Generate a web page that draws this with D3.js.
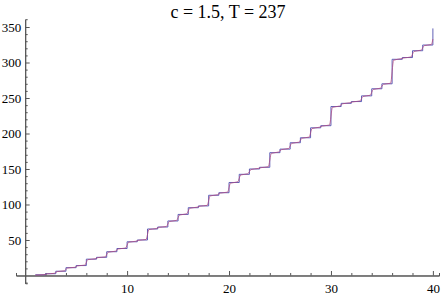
<!DOCTYPE html>
<html>
<head>
<meta charset="utf-8">
<script src="https://cdn.jsdelivr.net/npm/d3@7"></script>
<style>
  body { margin: 0; background: #fff; }
</style>
</head>
<body>
<svg id="chart"></svg>
<script>
// Staircase (blue): level on [n, n+1)
const stepX = [1, 2, 3, 4, 5, 6, 7, 8, 9, 10,
               11, 12, 13, 14, 15, 16, 17, 18, 19, 20,
               21, 22, 23, 24, 25, 26, 27, 28, 29, 30,
               31, 32, 33, 34, 35, 36, 37, 38, 39, 40];
const stepY = [1, 2.5, 6, 11, 14, 23, 25.6, 33.5, 38, 47.5,
               50, 65.5, 68.3, 76.8, 86, 95.5, 98, 113, 116.6, 131,
               142.5, 150, 152.4, 173, 178, 187, 194, 208, 211, 238,
               242.5, 245, 253, 263, 270, 304.5, 307, 316.6, 324.6, 348];

// Smooth approximation (red), read around each jump
const redX = [1, 1.85, 2.15, 2.85, 3.15, 3.85, 4.15, 4.85, 5.15, 5.85, 6.15,
              6.85, 7.15, 7.85, 8.15, 8.85, 9.15, 9.85, 10.15, 10.85, 11.15,
              11.85, 12.15, 12.85, 13.15, 13.85, 14.15, 14.85, 15.15, 15.85, 16.15,
              16.85, 17.15, 17.85, 18.15, 18.85, 19.15, 19.85, 20.15, 20.85, 21.15,
              21.85, 22.15, 22.85, 23.15, 23.85, 24.15, 24.85, 25.15, 25.85, 26.15,
              26.85, 27.15, 27.85, 28.15, 28.85, 29.15, 29.85, 30.15, 30.85, 31.15,
              31.85, 32.15, 32.85, 33.15, 33.85, 34.15, 34.85, 35.15, 35.85, 36.15,
              36.85, 37.15, 37.85, 38.15, 38.85, 39.15, 39.85, 40];
const redY = [0.6, 1.2, 2.2, 3.0, 5.5, 6.6, 10.5, 11.5, 13.6, 14.6, 22.3,
              23.5, 25.2, 26.2, 32.8, 34.2, 37.4, 38.7, 46.8, 48.2, 49.6,
              50.7, 64.7, 66.1, 67.8, 69.0, 76.0, 77.6, 85.2, 86.8, 94.7,
              96.2, 97.6, 98.8, 112.1, 113.7, 116.0, 117.4, 130.0, 131.9, 141.6,
              143.3, 149.2, 150.8, 151.9, 153.2, 172.0, 173.9, 177.3, 178.9, 186.1,
              187.8, 193.3, 194.9, 207.0, 208.8, 210.4, 211.9, 236.8, 238.7, 241.9,
              243.3, 244.5, 245.9, 252.2, 253.9, 262.0, 263.8, 269.3, 270.8, 303.2,
              305.3, 306.4, 307.8, 315.6, 317.4, 323.7, 325.4, 333];

const xMajor = [10, 20, 30, 40];
const xMinor = [2, 4, 6, 8, 12, 14, 16, 18, 22, 24, 26, 28, 32, 34, 36, 38];
const yMajor = [50, 100, 150, 200, 250, 300, 350];
const yMinor = [-10, 10, 20, 30, 40, 60, 70, 80, 90, 110, 120, 130, 140, 160, 170, 180, 190,
                210, 220, 230, 240, 260, 270, 280, 290, 310, 320, 330, 340];

const title = "c = 1.5, T = 237";

let width = 443, height = 296;
const serif = 'Liberation Serif';

let svg = d3.select('#chart')
    .attr('width', width)
    .attr('height', height);

let xScale = d3.scaleLinear()
    .domain([-0.9, 40.6])
    .range([16, 439]);

let yScale = d3.scaleLinear()
    .domain([-11, 361])
    .range([283.3, 19.2]);

const axisColor = '#555';

// x axis: ticks point up into the plot
let xAxisMinor = svg.append('g')
    .attr('transform', `translate(0, ${yScale(0)})`)
    .call(d3.axisBottom(xScale).tickValues(xMinor).tickSize(-2.5).tickFormat(''));
let xAxis = svg.append('g')
    .attr('transform', `translate(0, ${yScale(0)})`)
    .call(d3.axisBottom(xScale).tickValues(xMajor).tickSizeInner(-4.5).tickSizeOuter(0).tickPadding(6));

// y axis: ticks point right into the plot
let yAxisMinor = svg.append('g')
    .attr('transform', `translate(${xScale(0)}, 0)`)
    .call(d3.axisLeft(yScale).tickValues(yMinor).tickSize(-2.5).tickFormat(''));
let yAxis = svg.append('g')
    .attr('transform', `translate(${xScale(0)}, 0)`)
    .call(d3.axisLeft(yScale).tickValues(yMajor).tickSizeInner(-4.5).tickSizeOuter(0).tickPadding(4));

svg.selectAll('g').attr('font-family', serif);
svg.selectAll('.domain').attr('stroke', axisColor);
svg.selectAll('.tick line').attr('stroke', axisColor);
svg.selectAll('.tick text')
    .attr('fill', '#000')
    .attr('font-family', serif)
    .attr('font-size', 13);
xAxis.selectAll('.tick text').attr('dy', '0.85em');

// staircase
let stepLine = d3.line()
    .x(d => xScale(d[0]))
    .y(d => yScale(d[1]))
    .curve(d3.curveStepAfter);

svg.append('path')
    .datum(stepX.map((x, i) => [x, stepY[i]]))
    .attr('d', stepLine)
    .attr('fill', 'none')
    .attr('stroke', 'rgb(80,80,175)')
    .attr('stroke-width', 1)
    .attr('stroke-opacity', 0.9);

// smooth approximation
let redLine = d3.line()
    .x(d => xScale(d[0]))
    .y(d => yScale(d[1]))
    .curve(d3.curveMonotoneX);

svg.append('path')
    .datum(redX.map((x, i) => [x, redY[i]]))
    .attr('d', redLine)
    .attr('fill', 'none')
    .attr('stroke', 'rgb(175,70,125)')
    .attr('stroke-width', 1)
    .attr('stroke-opacity', 0.75);

// title
svg.append('text')
    .attr('x', 228)
    .attr('y', 18)
    .attr('text-anchor', 'middle')
    .attr('font-family', serif)
    .attr('font-size', 18)
    .text(title);
</script>
</body>
</html>
